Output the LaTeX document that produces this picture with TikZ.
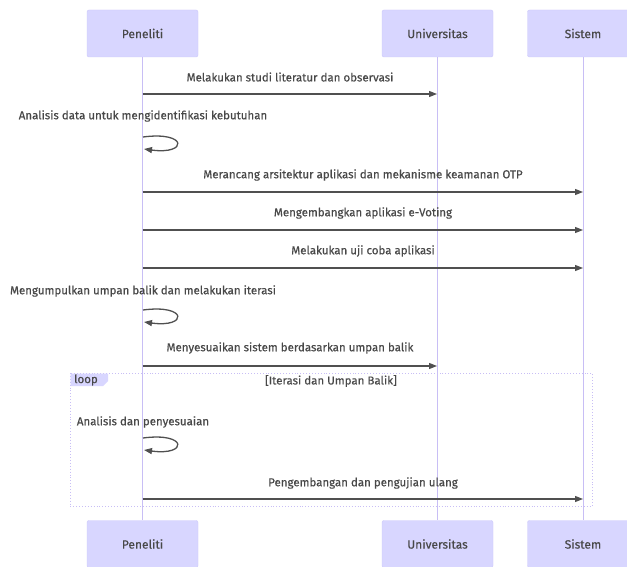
\documentclass[tikz,border=0pt]{standalone}
\usepackage{fontspec}
\setmainfont{Fira Sans}[BoldFont={Fira Sans}, BoldFeatures={FakeBold=0.35}]
\usetikzlibrary{arrows.meta}
\definecolor{actorfill}{RGB}{216,214,255}
\definecolor{actorline}{RGB}{204,200,250}
\definecolor{lifeline}{RGB}{200,190,245}
\definecolor{txt}{RGB}{72,72,72}
\definecolor{arrowcol}{RGB}{80,80,80}
\tikzset{
  actor/.style={draw=actorline, fill=actorfill, rounded corners=2pt, minimum width=111pt,
    minimum height=47pt, inner sep=0pt, text=txt, font=\fontsize{12}{14}\selectfont\bfseries},
  life/.style={draw=lifeline, line width=1pt},
  msg/.style={draw=arrowcol, line width=1.3pt, -{Triangle[length=8pt,width=6pt]}},
  msgtext/.style={text=txt, font=\fontsize{11.5}{13}\selectfont\bfseries, inner sep=0pt},
  frame/.style={draw=lifeline, line width=0.9pt, dotted},
}
\begin{document}
\begin{tikzpicture}[x=1pt,y=-1pt]
\clip (0,0) rectangle (627,567);
\fill[white] (0,0) rectangle (627,567);

% participants
\node[actor] (pTop) at (142.5,33.5) {Peneliti};
\node[actor] (uTop) at (437.5,33.5) {Universitas};
\node[actor] (sTop) at (583,33.5) {Sistem};
\node[actor] (pBot) at (142.5,544) {Peneliti};
\node[actor] (uBot) at (437.5,544) {Universitas};
\node[actor] (sBot) at (583,544) {Sistem};

% lifelines
\draw[life] (pTop.south) -- (pBot.north);
\draw[life] (uTop.south) -- (uBot.north);
\draw[life] (sTop.south) -- (sBot.north);

% loop frame
\draw[frame] (70,373) rectangle (592,506);
\fill[actorfill] (70.5,373.5) -- (108,373.5) -- (108,381) -- (103,386) -- (70.5,386) -- cycle;
\node[msgtext] (loopLbl) at (86,380) {loop};
\node[msgtext] (loopCond) at (331,381) {[Iterasi dan Umpan Balik]};

% anchor points on lifelines
\coordinate (p1) at (142.5,94);  \coordinate (u1) at (437,94);
\coordinate (p2a) at (143,137); \coordinate (p2b) at (144,149);
\coordinate (p3) at (142.5,192); \coordinate (s3) at (583,192);
\coordinate (p4) at (142.5,230); \coordinate (s4) at (583,230);
\coordinate (p5) at (142.5,268); \coordinate (s5) at (583,268);
\coordinate (p6a) at (143,310); \coordinate (p6b) at (144,322);
\coordinate (p7) at (142.5,366); \coordinate (u7) at (437,366);
\coordinate (p8a) at (143,438); \coordinate (p8b) at (144,450);
\coordinate (p9) at (142.5,499); \coordinate (s9) at (583,499);

% messages
\node[msgtext] (m1) at (290,77) {Melakukan studi literatur dan observasi};
\draw[msg] (p1) -- (u1);

\node[msgtext] (m2) at (143,116) {Analisis data untuk mengidentifikasi kebutuhan};
\draw[msg] (p2a) .. controls (188,131) and (188,155) .. (p2b);

\node[msgtext] (m3) at (363,175) {Merancang arsitektur aplikasi dan mekanisme keamanan OTP};
\draw[msg] (p3) -- (s3);

\node[msgtext] (m4) at (363,213) {Mengembangkan aplikasi e-Voting};
\draw[msg] (p4) -- (s4);

\node[msgtext] (m5) at (363,251) {Melakukan uji coba aplikasi};
\draw[msg] (p5) -- (s5);

\node[msgtext] (m6) at (143,291) {Mengumpulkan umpan balik dan melakukan iterasi};
\draw[msg] (p6a) .. controls (188,304) and (188,328) .. (p6b);

\node[msgtext] (m7) at (290,348) {Menyesuaikan sistem berdasarkan umpan balik};
\draw[msg] (p7) -- (u7);

\node[msgtext] (m8) at (143,422) {Analisis dan penyesuaian};
\draw[msg] (p8a) .. controls (188,432) and (188,456) .. (p8b);

\node[msgtext] (m9) at (363,483) {Pengembangan dan pengujian ulang};
\draw[msg] (p9) -- (s9);
\end{tikzpicture}
\end{document}
